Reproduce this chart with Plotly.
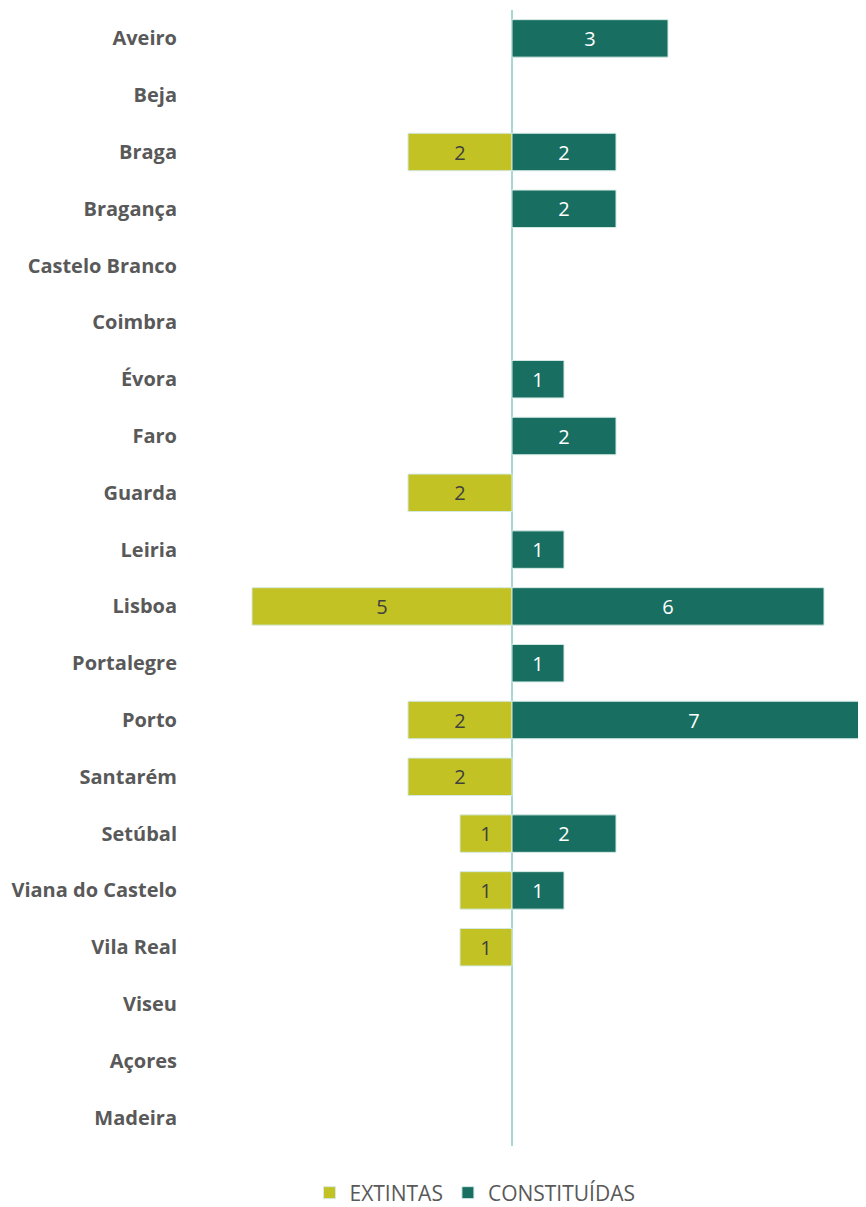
import plotly.graph_objects as go

categories = ["Aveiro", "Beja", "Braga", "Bragança", "Castelo Branco", "Coimbra",
              "Évora", "Faro", "Guarda", "Leiria", "Lisboa", "Portalegre", "Porto",
              "Santarém", "Setúbal", "Viana do Castelo", "Vila Real", "Viseu",
              "Açores", "Madeira"]
extintas = [0, 0, 2, 0, 0, 0, 0, 0, 2, 0, 5, 0, 2, 2, 1, 1, 1, 0, 0, 0]
constituidas = [3, 0, 2, 2, 0, 0, 1, 2, 0, 1, 6, 1, 7, 0, 2, 1, 0, 0, 0, 0]

C_EXT = "#C2C224"
C_CON = "#186F61"
OUTLINE = "#D4EAE5"

# page body has an 8px margin; size the figure accordingly
W, H = 858, 1199
ML, MR, MT, MB = 182, 0, 2, 61
PX_PER_UNIT = 52
plot_w = W - ML - MR
plot_h = H - MT - MB
zero_px = 504
xmin = -(zero_px - ML) / PX_PER_UNIT
xmax = (W - MR - zero_px) / PX_PER_UNIT

fig = go.Figure()
fig.add_trace(go.Bar(
    name="EXTINTAS", y=categories,
    x=[-v if v else None for v in extintas],
    text=[str(v) if v else "" for v in extintas],
    orientation="h", width=0.66,
    marker=dict(color=C_EXT, line=dict(color=OUTLINE, width=1)),
    textposition="inside", insidetextanchor="middle", textangle=0,
    textfont=dict(color="#404040", size=20, family="Open Sans"),
    hoverinfo="skip",
))
fig.add_trace(go.Bar(
    name="CONSTITUÍDAS", y=categories,
    x=[v if v else None for v in constituidas],
    text=[str(v) if v else "" for v in constituidas],
    orientation="h", width=0.66,
    marker=dict(color=C_CON, line=dict(color=OUTLINE, width=1)),
    textposition="inside", insidetextanchor="middle", textangle=0,
    textfont=dict(color="#FFFFFF", size=20, family="Open Sans"),
    hoverinfo="skip",
))

legend_center_px = 467
fig.update_layout(
    width=W, height=H,
    margin=dict(l=ML, r=MR, t=MT, b=MB, pad=0, autoexpand=False),
    barmode="relative",
    paper_bgcolor="white", plot_bgcolor="white",
    font=dict(family="Open Sans", color="#595959", size=20),
    showlegend=True,
    legend=dict(orientation="h", x=(legend_center_px - ML) / plot_w, xanchor="center",
                y=-47 / plot_h, yanchor="middle",
                font=dict(size=21, color="#595959", family="Open Sans"),
                traceorder="normal"),
    xaxis=dict(range=[xmin, xmax], showgrid=False, showticklabels=False,
               zeroline=True, zerolinecolor="#A6D9D1", zerolinewidth=2,
               showline=False, ticks="", fixedrange=True),
    yaxis=dict(categoryorder="array", categoryarray=categories, autorange="reversed",
               showgrid=False, showline=False, ticks="", ticklabelstandoff=12,
               tickfont=dict(family="Open Sans", size=20, color="#595959", weight="bold")),
)

fig.write_html("out.html")
